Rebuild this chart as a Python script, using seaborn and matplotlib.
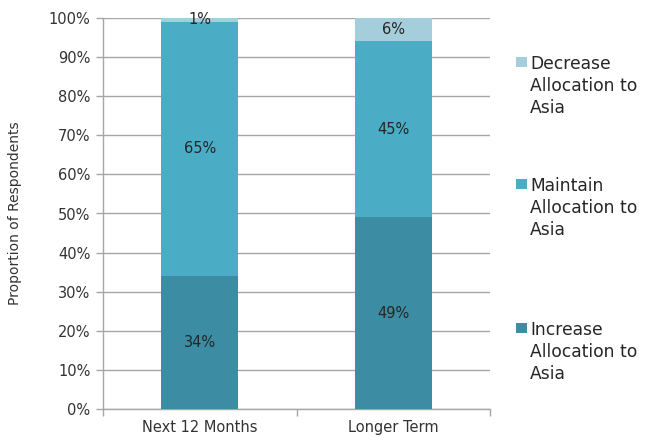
import matplotlib
matplotlib.use("Agg")
import matplotlib.pyplot as plt
import seaborn as sns
import pandas as pd
from matplotlib.patches import Rectangle

categories = ["Next 12 Months", "Longer Term"]
increase = [34, 49]
maintain = [65, 45]
decrease = [1, 6]
series_names = ["Increase\nAllocation to\nAsia", "Maintain\nAllocation to\nAsia", "Decrease\nAllocation to\nAsia"]
series_values = [increase, maintain, decrease]
colors = ["#3C8DA3", "#4BACC6", "#A5CEDC"]
yticks = [0, 10, 20, 30, 40, 50, 60, 70, 80, 90, 100]

sns.set_theme(style="white")
plt.rcParams["font.family"] = ["DejaVu Sans"]
text_color = "#333333"

fig = plt.figure(figsize=(6.45, 4.4), dpi=100)
ax = fig.add_axes([103/645, 1 - 409/440, (490-103)/645, (409-18)/440])

bottom = [0] * len(categories)
for name, vals, col in zip(series_names, series_values, colors):
    df = pd.DataFrame({"cat": categories, "val": vals})
    sns.barplot(data=df, x="cat", y="val", ax=ax, color=col, width=0.4,
                bottom=bottom, saturation=1, edgecolor="none", linewidth=0, zorder=3)
    for i, (v, b) in enumerate(zip(vals, bottom)):
        ax.text(i, b + v / 2, f"{v}%", ha="center", va="center",
                fontsize=10.5, color="#262626", zorder=4)
    bottom = [b + v for b, v in zip(bottom, vals)]

ax.set_xlim(-0.5, 1.5)
ax.set_ylim(0, 100)
ax.set_yticks(yticks)
ax.set_yticklabels([f"{t}%" for t in yticks], fontsize=10.5, color=text_color)
ax.yaxis.grid(True, color="#A6A6A6", linewidth=1, zorder=0)
ax.set_axisbelow(True)

ax.set_xticks([-0.5, 0.5, 1.5])
ax.set_xticklabels([])
ax.set_xticks([0, 1], minor=True)
ax.set_xticklabels(categories, minor=True, fontsize=10.5, color=text_color)
ax.tick_params(axis="x", which="major", length=5, color="#A6A6A6", width=1, direction="out", bottom=True)
ax.tick_params(axis="x", which="minor", length=0, pad=8)
ax.tick_params(axis="y", length=5, color="#A6A6A6", width=1, direction="out", left=True, pad=4)
ax.set_xlabel("")
ax.set_ylabel("Proportion of Respondents", fontsize=10, color=text_color, labelpad=19)

for s in ["top", "right"]:
    ax.spines[s].set_visible(False)
for s in ["left", "bottom"]:
    ax.spines[s].set_color("#A6A6A6")
    ax.spines[s].set_linewidth(1)

# legend (manual, top-aligned handles)
legend_items = list(zip(series_names, colors))[::-1]
tops = [57, 179, 323]
for (name, col), top in zip(legend_items, tops):
    fig.patches.append(Rectangle((516/645, 1 - (top + 10)/440), 11/645, 10/440,
                                 transform=fig.transFigure, facecolor=col, edgecolor="none"))
    fig.text(530/645, 1 - (top - 2)/440, name, ha="left", va="top",
             fontsize=12.3, color="#262626", linespacing=1.27)

fig.savefig("out.png", dpi=100)
